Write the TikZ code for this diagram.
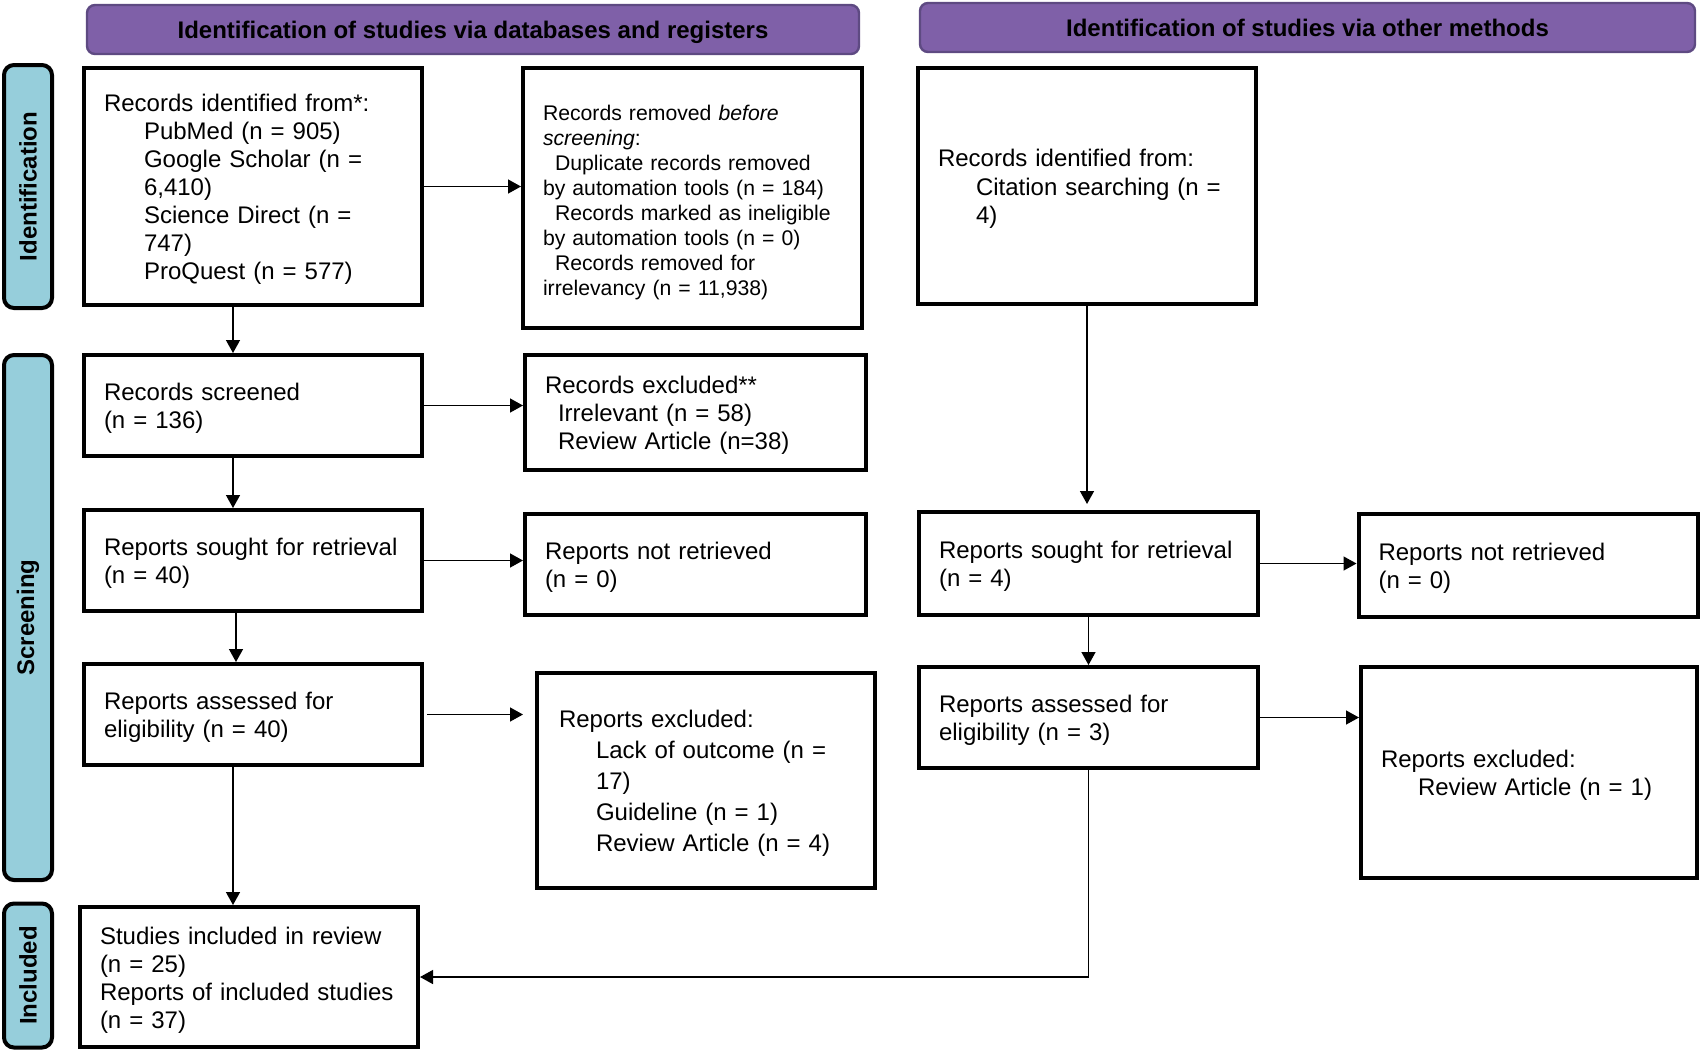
\documentclass[tikz,border=0pt]{standalone}
\usepackage{fontspec}
\setmainfont{Liberation Sans}
\usetikzlibrary{arrows.meta}
\definecolor{hdrfill}{HTML}{7F60A8}
\definecolor{hdrline}{HTML}{5E4A82}
\definecolor{sidefill}{HTML}{96CEDB}
\begin{document}
\begin{tikzpicture}[x=0.5pt,y=-0.5pt,
 box/.style={draw, line width=2pt, align=left, inner xsep=10pt, inner ysep=1pt, font=\fontsize{12}{14}\selectfont, execute at begin node={\rule{0pt}{11.8pt}}},
 hdr/.style={draw=hdrline, fill=hdrfill, line width=1.2pt, rounded corners=4pt, font=\bfseries\fontsize{12}{14}\selectfont, minimum height=24.5pt, inner sep=0pt, text depth=0pt},
 side/.style={draw=black, fill=sidefill, line width=2pt, rounded corners=5pt, rotate=90, minimum height=24pt, font=\bfseries\fontsize{12}{14}\selectfont, inner sep=0pt},
 arr/.style={line width=0.7pt, -{Triangle[length=6.5pt,width=7pt]}},
]
\useasboundingbox (0,0) rectangle (1701,1051);

% headers
\node[hdr, minimum width=386pt] (hleft) at (473,29.5) {Identification of studies via databases and registers};
\node[hdr, minimum width=387.5pt] (hright) at (1307.5,27.5) {Identification of studies via other methods};

% side labels
\node[side, minimum width=121.5pt] (sident) at (28,186.5) {Identification};
\node[side, minimum width=262.5pt] (sscreen) at (28,617.5) {Screening};
\node[side, minimum width=72pt] (sincl) at (28,975.5) {Included};

% left column
\node[box, minimum width=169pt, text width=149pt, minimum height=118.5pt] (recid) at (253,186.5)
 {Records identified from*:\\
  \hspace*{20pt}PubMed (n = 905)\\
  \hspace*{20pt}Google Scholar (n =\\
  \hspace*{20pt}6,410)\\
  \hspace*{20pt}Science Direct (n =\\
  \hspace*{20pt}747)\\
  \hspace*{20pt}ProQuest (n = 577)};

\node[box, minimum width=169.5pt, text width=149.5pt, minimum height=130pt, font=\fontsize{10.6}{12.5}\selectfont] (removed) at (692.5,198)
 {Records removed \textit{before}\\
  \textit{screening}:\\
  \hspace*{6pt}Duplicate records removed\\
  by automation tools (n = 184)\\
  \hspace*{6pt}Records marked as ineligible\\
  by automation tools (n = 0)\\
  \hspace*{6pt}Records removed for\\
  irrelevancy (n = 11,938)};

\node[box, minimum width=169pt, text width=149pt, minimum height=50.5pt] (screened) at (253,405.5)
 {Records screened\\(n = 136)};

\node[box, minimum width=170.5pt, text width=150.5pt, minimum height=57.5pt] (excluded) at (695.5,412.5)
 {Records excluded**\\
  \hspace*{6.5pt}Irrelevant (n = 58)\\
  \hspace*{6.5pt}Review Article (n=38)};

\node[box, minimum width=169pt, text width=149pt, minimum height=50.5pt] (soughtL) at (253,560.5)
 {Reports sought for retrieval\\(n = 40)};

\node[box, minimum width=170.5pt, text width=150.5pt, minimum height=50.5pt] (notretL) at (695.5,564.5)
 {Reports not retrieved\\(n = 0)};

\node[box, minimum width=169pt, text width=149pt, minimum height=50.5pt] (assessL) at (253,714.5)
 {Reports assessed for\\eligibility (n = 40)};

\node[box, minimum width=169pt, text width=147pt, inner xsep=11pt, minimum height=107.5pt, font=\fontsize{12}{15.5}\selectfont] (exclL) at (706,780.5)
 {Reports excluded:\\
  \hspace*{18.5pt}Lack of outcome (n =\\
  \hspace*{18.5pt}17)\\
  \hspace*{18.5pt}Guideline (n = 1)\\
  \hspace*{18.5pt}Review Article (n = 4)};

\node[box, minimum width=169pt, text width=149pt, minimum height=70pt, font=\fontsize{12}{13.9}\selectfont] (included) at (249,977)
 {Studies included in review\\
  (n = 25)\\
  Reports of included studies\\
  (n = 37)};

% right column
\node[box, minimum width=169pt, text width=149pt, minimum height=118pt, font=\fontsize{12}{14.25}\selectfont] (other) at (1087,186)
 {Records identified from:\\
  \hspace*{19pt}Citation searching (n =\\
  \hspace*{19pt}4)};

\node[box, minimum width=169.5pt, text width=149.5pt, minimum height=51.5pt] (soughtR) at (1088.5,563.5)
 {Reports sought for retrieval\\(n = 4)};

\node[box, minimum width=169.5pt, text width=149.5pt, minimum height=51.5pt] (notretR) at (1528,565.5)
 {Reports not retrieved\\(n = 0)};

\node[box, minimum width=169.5pt, text width=149.5pt, minimum height=50.5pt] (assessR) at (1088.5,717.5)
 {Reports assessed for\\eligibility (n = 3)};

\node[box, minimum width=168pt, text width=148pt, minimum height=105.5pt] (exclR) at (1529,772.5)
 {Reports excluded:\\
  \hspace*{18.5pt}Review Article (n = 1)};

% connectors
\draw[arr] ([xshift=-10pt]recid.south) -- ([xshift=-10pt]recid.south |- screened.north);
\draw[arr] (recid.east) -- (recid.east -| removed.west);
\draw[arr] (screened.east) -- (screened.east -| excluded.west);
\draw[arr] ([xshift=-10pt]screened.south) -- ([xshift=-10pt]screened.south |- soughtL.north);
\draw[arr] (soughtL.east) -- (soughtL.east -| notretL.west);
\draw[arr] ([xshift=-8.5pt]soughtL.south) -- ([xshift=-8.5pt]soughtL.south |- assessL.north);
\draw[arr] ([xshift=1.5pt]assessL.east) -- ([xshift=-6pt]assessL.east -| exclL.west);
\draw[arr] ([xshift=-10pt]assessL.south) -- ([xshift=-10pt]assessL.south |- included.north);
\draw[arr] (other.south) -- ([yshift=3pt]other.south |- soughtR.north);
\draw[arr] (soughtR.south) -- (soughtR.south |- assessR.north);
\draw[arr] (soughtR.east) -- (soughtR.east -| notretR.west);
\draw[arr] (assessR.east) -- (assessR.east -| exclR.west);
\draw[arr] (assessR.south) |- (included.east);
\end{tikzpicture}
\end{document}
